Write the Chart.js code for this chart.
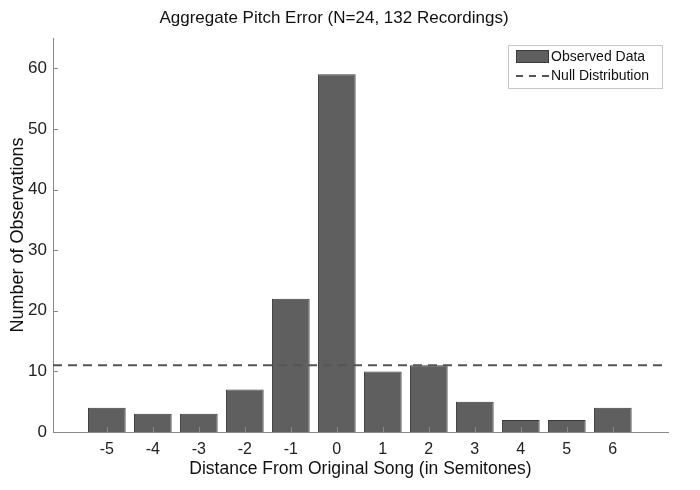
<!DOCTYPE html>
<html>
<head>
<meta charset="utf-8">
<script src="https://cdn.jsdelivr.net/npm/chart.js@4/dist/chart.umd.min.js"></script>
<style>
  html, body { margin: 0; background: #fff; }
  #wrap { width: 700px; height: 490px; }
</style>
</head>
<body>
<div id="wrap"><canvas id="chart"></canvas></div>
<script>
// data
const semitones = [-5, -4, -3, -2, -1, 0, 1, 2, 3, 4, 5, 6];
const counts = [4, 3, 3, 7, 22, 59, 10, 11, 5, 2, 2, 4];
const nullLevel = 11;           // 132 recordings / 12 bins
const xRange = [-6.17, 7.2];
const yTicks = [0, 10, 20, 30, 40, 50, 60];

const FONT = '"Liberation Sans", Arial, Helvetica, sans-serif';
const barFill = '#5f5f5f';
const barEdge = '#3a3a3a';
const dashColor = '#555555';
const axisColor = '#8a8a8a';

// inward tick marks + legend box drawn inside the axes
const axesDecor = {
  id: 'axesDecor',
  afterDraw(chart) {
    const ctx = chart.ctx;
    const { left, right, top, bottom } = chart.chartArea;
    const xs = chart.scales.x, ys = chart.scales.y;
    ctx.save();
    ctx.strokeStyle = axisColor;
    ctx.lineWidth = 1;
    ctx.beginPath();
    semitones.forEach(v => {
      const px = Math.round(xs.getPixelForValue(v)) + 0.5;
      ctx.moveTo(px, bottom); ctx.lineTo(px, bottom - 5);
    });
    yTicks.forEach(v => {
      const py = Math.round(ys.getPixelForValue(v)) + 0.5;
      ctx.moveTo(left, py); ctx.lineTo(left + 5, py);
    });
    ctx.stroke();

    // legend
    const bw = 154, bh = 43;
    const bx = right - bw - 6, by = top + 7;
    ctx.fillStyle = '#fff';
    ctx.fillRect(bx, by, bw, bh);
    ctx.strokeStyle = '#c8c8c8';
    ctx.strokeRect(bx + 0.5, by + 0.5, bw, bh);

    const ds = chart.data.datasets;
    ctx.fillStyle = barFill;
    ctx.fillRect(bx + 8, by + 5, 33, 13);
    ctx.strokeStyle = barEdge;
    ctx.strokeRect(bx + 8.5, by + 5.5, 32, 12);

    ctx.strokeStyle = dashColor;
    ctx.lineWidth = 2;
    ctx.setLineDash([7, 6]);
    ctx.beginPath();
    ctx.moveTo(bx + 8, by + 31); ctx.lineTo(bx + 41, by + 31);
    ctx.stroke();
    ctx.setLineDash([]);

    ctx.fillStyle = '#111';
    ctx.font = '14px ' + FONT;
    ctx.textBaseline = 'middle';
    ctx.fillText(ds[0].label, bx + 43, by + 12);
    ctx.fillText(ds[1].label, bx + 43, by + 31);
    ctx.restore();
  }
};

new Chart(document.getElementById('chart'), {
  type: 'bar',
  data: {
    datasets: [
      {
        type: 'bar',
        label: 'Observed Data',
        data: semitones.map((s, i) => ({ x: s, y: counts[i] })),
        backgroundColor: barFill,
        borderColor: barEdge,
        borderWidth: 1,
        barPercentage: 0.82,
        categoryPercentage: 1.0,
        order: 2
      },
      {
        type: 'line',
        label: 'Null Distribution',
        data: xRange.map(x => ({ x: x, y: nullLevel })),
        borderColor: dashColor,
        borderWidth: 2,
        borderDash: [9, 6],
        pointRadius: 0,
        fill: false,
        order: 1
      }
    ]
  },
  options: {
    responsive: true,
    maintainAspectRatio: false,
    animation: false,
    layout: { padding: { left: 0, right: 32, top: 4, bottom: 10 } },
    plugins: {
      legend: { display: false },
      tooltip: { enabled: false },
      title: {
        display: true,
        text: 'Aggregate Pitch Error (N=24, 132 Recordings)',
        color: '#111',
        font: { family: FONT, size: 17, weight: 'normal' },
        padding: { top: 4, bottom: 9.6 }
      }
    },
    scales: {
      x: {
        type: 'linear',
        min: xRange[0],
        max: xRange[1],
        offset: false,
        afterBuildTicks: axis => { axis.ticks = semitones.map(v => ({ value: v })); },
        afterFit: axis => { axis.height = 48; },
        ticks: {
          color: '#222',
          font: { family: FONT, size: 16 },
          padding: 8
        },
        grid: { display: false, drawTicks: false },
        border: { display: true, color: axisColor, width: 1 },
        title: {
          display: true,
          text: 'Distance From Original Song (in Semitones)',
          color: '#111',
          font: { family: FONT, size: 17.5 },
          padding: { top: 0, bottom: 0 }
        }
      },
      y: {
        min: 0,
        max: 65,
        afterBuildTicks: axis => { axis.ticks = yTicks.map(v => ({ value: v })); },
        afterFit: axis => { axis.width = 53; },
        ticks: {
          color: '#222',
          font: { family: FONT, size: 17 },
          padding: 6
        },
        grid: { display: false, drawTicks: false },
        border: { display: true, color: axisColor, width: 1 },
        title: {
          display: true,
          text: 'Number of Observations',
          color: '#111',
          font: { family: FONT, size: 18 },
          padding: { top: 7, bottom: 0 }
        }
      }
    }
  },
  plugins: [axesDecor]
});
</script>
</body>
</html>
